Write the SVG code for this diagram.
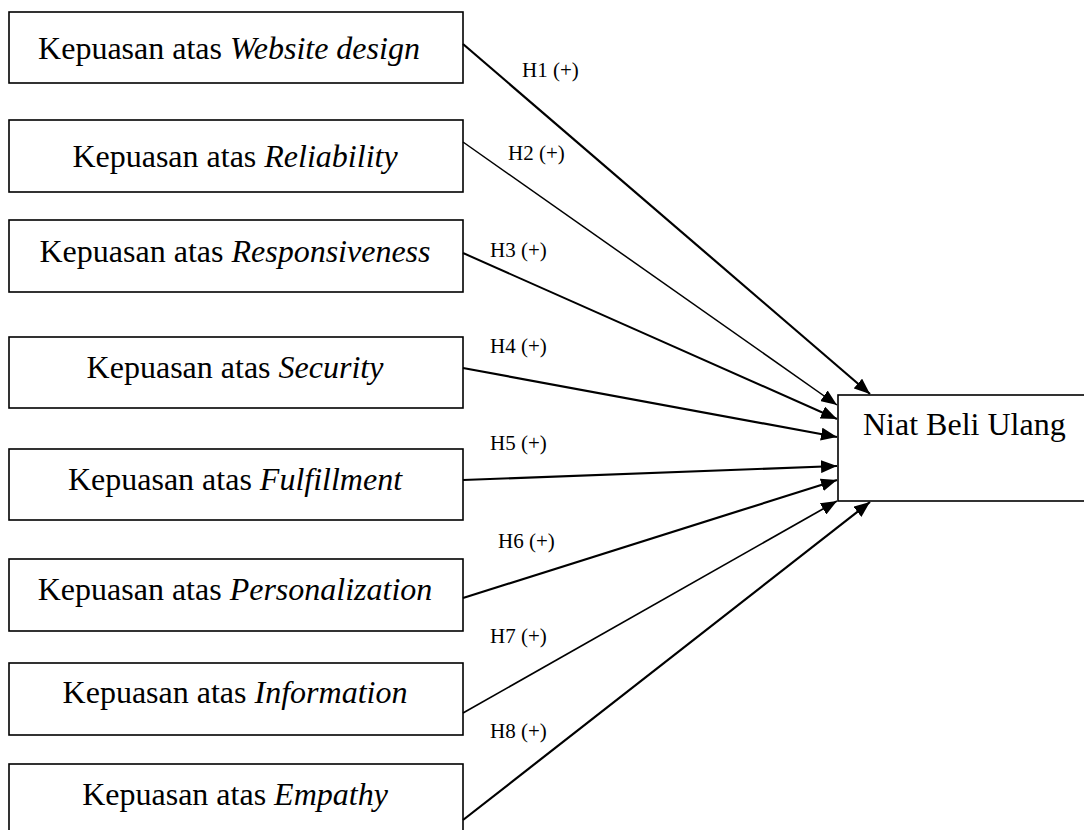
<svg xmlns="http://www.w3.org/2000/svg" width="1084" height="830" viewBox="0 0 1084 830">
<style>
.box{fill:#fff;stroke:#000;stroke-width:1.6}
.t{font-family:"Liberation Serif","Times New Roman",serif;font-size:32px;fill:#000}
.c{text-anchor:middle}
.i{font-style:italic}
.lbl{font-family:"Liberation Serif","Times New Roman",serif;font-size:21px;fill:#000}
.ln{stroke:#000;fill:none}
</style>
<defs>
<marker id="ah" markerUnits="userSpaceOnUse" markerWidth="16" markerHeight="13" refX="16" refY="6.5" orient="auto">
<path d="M0,0 L16,6.5 L0,13 z" fill="#000"/>
</marker>
</defs>
<rect width="1084" height="830" fill="#fff"/>
<g id="n1"><rect class="box" x="9" y="12" width="454" height="71"/><text class="t c" x="229" y="59">Kepuasan atas <tspan class="i">Website design</tspan></text></g>
<g id="n2"><rect class="box" x="9" y="120" width="454" height="72"/><text class="t c" x="235" y="167">Kepuasan atas <tspan class="i">Reliability</tspan></text></g>
<g id="n3"><rect class="box" x="9" y="220" width="454" height="72"/><text class="t c" x="235" y="262">Kepuasan atas <tspan class="i">Responsiveness</tspan></text></g>
<g id="n4"><rect class="box" x="9" y="337" width="454" height="71"/><text class="t c" x="235" y="378">Kepuasan atas <tspan class="i">Security</tspan></text></g>
<g id="n5"><rect class="box" x="9" y="449" width="454" height="71"/><text class="t c" x="235" y="490">Kepuasan atas <tspan class="i">Fulfillment</tspan></text></g>
<g id="n6"><rect class="box" x="9" y="559" width="454" height="72"/><text class="t c" x="235" y="600">Kepuasan atas <tspan class="i">Personalization</tspan></text></g>
<g id="n7"><rect class="box" x="9" y="663" width="454" height="72"/><text class="t c" x="235" y="703">Kepuasan atas <tspan class="i">Information</tspan></text></g>
<g id="n8"><rect class="box" x="9" y="764" width="454" height="72"/><text class="t c" x="235" y="805">Kepuasan atas <tspan class="i">Empathy</tspan></text></g>
<g id="target"><rect class="box" x="838" y="395" width="260" height="106"/><text class="t" x="863" y="435">Niat Beli Ulang</text></g>
<g id="connectors">
<line class="ln" x1="463" y1="44" x2="870" y2="394" stroke-width="2.2" marker-end="url(#ah)"/>
<line class="ln" x1="463" y1="142" x2="837" y2="405" stroke-width="1.5" marker-end="url(#ah)"/>
<line class="ln" x1="463" y1="253" x2="837" y2="419" stroke-width="2" marker-end="url(#ah)"/>
<line class="ln" x1="463" y1="368" x2="837" y2="437" stroke-width="2.2" marker-end="url(#ah)"/>
<line class="ln" x1="463" y1="480" x2="837" y2="466" stroke-width="2.2" marker-end="url(#ah)"/>
<line class="ln" x1="463" y1="598" x2="837" y2="480" stroke-width="2.2" marker-end="url(#ah)"/>
<line class="ln" x1="463" y1="713" x2="837" y2="501" stroke-width="1.7" marker-end="url(#ah)"/>
<line class="ln" x1="463" y1="820" x2="870" y2="502" stroke-width="2.2" marker-end="url(#ah)"/>
<text class="lbl" x="522" y="77">H1 (+)</text>
<text class="lbl" x="508" y="160">H2 (+)</text>
<text class="lbl" x="490" y="257">H3 (+)</text>
<text class="lbl" x="490" y="353">H4 (+)</text>
<text class="lbl" x="490" y="450">H5 (+)</text>
<text class="lbl" x="498" y="548">H6 (+)</text>
<text class="lbl" x="490" y="643">H7 (+)</text>
<text class="lbl" x="490" y="738">H8 (+)</text>
</g>
</svg>
